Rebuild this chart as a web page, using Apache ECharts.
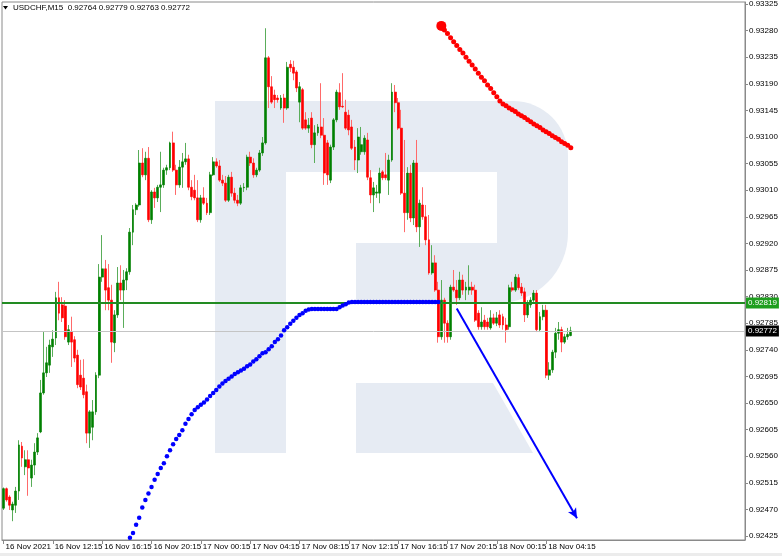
<!DOCTYPE html>
<html><head><meta charset="utf-8">
<script src="https://cdn.jsdelivr.net/npm/echarts@6/dist/echarts.min.js"></script>
<style>html,body{margin:0;padding:0;background:#fff}#c{width:782px;height:556px}</style>
</head><body><div id="c"></div>
<script>
// ---------------- data ----------------
const symbolName = 'USDCHF,M15';
const xTickLabels = ['16 Nov 2021','16 Nov 12:15','16 Nov 16:15','16 Nov 20:15','17 Nov 00:15','17 Nov 04:15','17 Nov 08:15','17 Nov 12:15','17 Nov 16:15','17 Nov 20:15','18 Nov 00:15','18 Nov 04:15'];
const yTickLabels = [0.92425,0.92470,0.92515,0.92560,0.92605,0.92650,0.92695,0.92740,0.92785,0.92830,0.92875,0.92920,0.92965,0.93010,0.93055,0.93100,0.93145,0.93190,0.93235,0.93280,0.93325];

const opens = [
0.92472,0.92505,0.92491,0.92469,0.92477,0.92501,0.92577,0.92542,0.92554,0.92523,
0.92545,0.92567,0.92601,0.92667,0.92701,0.92714,0.92745,0.92760,0.92828,0.92816,
0.92814,0.92753,0.92770,0.92757,0.92731,0.92697,0.92692,0.92669,0.92599,0.92609,
0.92635,0.92697,0.92863,0.92877,0.92845,0.92824,0.92752,0.92799,0.92853,0.92841,
0.92858,0.92872,0.92939,0.92977,0.92985,0.93056,0.93036,0.93064,0.92960,0.93007,
0.92997,0.93015,0.93019,0.93044,0.93048,0.93090,0.93044,0.93019,0.93049,0.93058,
0.93063,0.93015,0.93010,0.92997,0.92960,0.92997,0.92988,0.92972,0.93036,0.93058,
0.93051,0.93027,0.93022,0.92993,0.93032,0.93005,0.92993,0.92988,0.93014,0.93015,
0.93066,0.93056,0.93036,0.93044,0.93073,0.93090,0.93234,0.93185,0.93171,0.93166,
0.93149,0.93166,0.93149,0.93223,0.93218,0.93210,0.93159,0.93180,0.93129,0.93115,
0.93132,0.93087,0.93107,0.93117,0.93103,0.93090,0.93027,0.93083,0.93129,0.93175,
0.93152,0.93142,0.93137,0.93117,0.93083,0.93061,0.93075,0.93075,0.93095,0.93031,
0.93002,0.93005,0.93005,0.93041,0.93036,0.93027,0.93061,0.93176,0.93158,0.93115,
0.93005,0.92972,0.93039,0.92963,0.93056,0.92948,0.92985,0.92965,0.92926,0.92870,
0.92887,0.92841,0.92762,0.92824,0.92785,0.92762,0.92846,0.92841,0.92828,0.92858,
0.92841,0.92841,0.92846,0.92841,0.92802,0.92779,0.92790,0.92787,0.92777,0.92794,
0.92785,0.92799,0.92796,0.92782,0.92779,0.92845,0.92841,0.92862,0.92846,0.92838,
0.92799,0.92816,0.92824,0.92836,0.92774,0.92796,0.92807,0.92697,0.92706,0.92736,
0.92768,0.92774,0.92753,0.92762,0.92764];

const highs = [
0.92507,0.92507,0.92494,0.92483,0.92508,0.92587,0.92584,0.92570,0.92570,0.92554,
0.92582,0.92599,0.92689,0.92770,0.92745,0.92757,0.92773,0.92838,0.92855,0.92829,
0.92824,0.92782,0.92796,0.92763,0.92740,0.92723,0.92724,0.92681,0.92638,0.92655,
0.92702,0.92885,0.92934,0.92892,0.92885,0.92850,0.92807,0.92880,0.92883,0.92875,
0.92878,0.92946,0.92985,0.92988,0.93078,0.93081,0.93075,0.93083,0.93010,0.93014,
0.93019,0.93075,0.93048,0.93053,0.93092,0.93109,0.93053,0.93061,0.93073,0.93090,
0.93070,0.93027,0.93036,0.93027,0.93002,0.93015,0.92997,0.93041,0.93066,0.93064,
0.93061,0.93036,0.93034,0.93036,0.93041,0.93014,0.93002,0.93019,0.93022,0.93070,
0.93075,0.93064,0.93048,0.93078,0.93100,0.93284,0.93237,0.93203,0.93180,0.93171,
0.93171,0.93173,0.93227,0.93230,0.93229,0.93213,0.93193,0.93183,0.93142,0.93132,
0.93142,0.93120,0.93122,0.93191,0.93132,0.93095,0.93087,0.93132,0.93180,0.93191,
0.93208,0.93163,0.93146,0.93129,0.93095,0.93115,0.93117,0.93103,0.93107,0.93044,
0.93024,0.93019,0.93048,0.93044,0.93073,0.93070,0.93191,0.93188,0.93166,0.93146,
0.93095,0.93049,0.93053,0.93061,0.93095,0.92994,0.93015,0.92985,0.92968,0.92917,
0.92900,0.92855,0.92858,0.92828,0.92790,0.92850,0.92875,0.92858,0.92872,0.92867,
0.92855,0.92883,0.92855,0.92850,0.92807,0.92812,0.92799,0.92794,0.92807,0.92801,
0.92804,0.92807,0.92801,0.92794,0.92850,0.92855,0.92868,0.92868,0.92853,0.92845,
0.92824,0.92829,0.92841,0.92841,0.92804,0.92816,0.92816,0.92719,0.92740,0.92777,
0.92787,0.92779,0.92767,0.92777,0.92779];

const lows = [
0.92469,0.92483,0.92469,0.92450,0.92464,0.92486,0.92542,0.92528,0.92493,0.92508,
0.92528,0.92562,0.92599,0.92664,0.92694,0.92701,0.92728,0.92748,0.92790,0.92787,
0.92757,0.92748,0.92711,0.92719,0.92675,0.92672,0.92658,0.92582,0.92574,0.92587,
0.92630,0.92692,0.92855,0.92807,0.92807,0.92718,0.92736,0.92794,0.92824,0.92777,
0.92841,0.92867,0.92917,0.92968,0.92982,0.93032,0.93027,0.92956,0.92953,0.92980,
0.92990,0.92973,0.93014,0.93036,0.93044,0.93041,0.93002,0.93014,0.93014,0.93053,
0.93010,0.92993,0.92993,0.92956,0.92955,0.92985,0.92968,0.92968,0.93034,0.93048,
0.93024,0.93017,0.92990,0.92990,0.92999,0.92988,0.92983,0.92985,0.93007,0.93010,
0.93051,0.93031,0.93032,0.93041,0.93068,0.93087,0.93149,0.93156,0.93149,0.93158,
0.93146,0.93124,0.93146,0.93210,0.93196,0.93176,0.93125,0.93112,0.93112,0.93107,
0.93081,0.93056,0.93102,0.93098,0.93019,0.93019,0.93022,0.93078,0.93125,0.93146,
0.93149,0.93112,0.93103,0.93078,0.93044,0.93039,0.93070,0.93070,0.93027,0.92988,
0.92973,0.92997,0.92988,0.93027,0.93027,0.93002,0.93058,0.93142,0.93112,0.93002,
0.92939,0.92960,0.92956,0.92951,0.92939,0.92914,0.92960,0.92917,0.92867,0.92867,
0.92838,0.92752,0.92757,0.92752,0.92752,0.92757,0.92838,0.92816,0.92824,0.92833,
0.92824,0.92833,0.92833,0.92787,0.92774,0.92774,0.92774,0.92774,0.92774,0.92782,
0.92780,0.92777,0.92774,0.92752,0.92774,0.92838,0.92838,0.92841,0.92831,0.92787,
0.92794,0.92811,0.92821,0.92770,0.92770,0.92790,0.92692,0.92689,0.92701,0.92726,
0.92757,0.92736,0.92750,0.92757,0.92763];

const closes = [
0.92505,0.92486,0.92477,0.92479,0.92501,0.92579,0.92557,0.92554,0.92540,0.92545,
0.92567,0.92591,0.92667,0.92701,0.92718,0.92748,0.92758,0.92828,0.92802,0.92794,
0.92762,0.92774,0.92753,0.92726,0.92681,0.92677,0.92664,0.92599,0.92635,0.92635,
0.92697,0.92863,0.92877,0.92841,0.92824,0.92753,0.92799,0.92853,0.92841,0.92858,
0.92872,0.92939,0.92977,0.92985,0.93056,0.93036,0.93064,0.92960,0.93007,0.92997,
0.93015,0.93019,0.93044,0.93048,0.93090,0.93044,0.93019,0.93049,0.93058,0.93063,
0.93015,0.92999,0.92997,0.92960,0.92997,0.92988,0.92972,0.93036,0.93058,0.93051,
0.93027,0.93022,0.92993,0.93032,0.93005,0.92993,0.92988,0.93014,0.93015,0.93066,
0.93056,0.93036,0.93044,0.93073,0.93090,0.93234,0.93185,0.93159,0.93163,0.93163,
0.93166,0.93149,0.93218,0.93217,0.93208,0.93183,0.93185,0.93115,0.93115,0.93120,
0.93087,0.93107,0.93117,0.93103,0.93039,0.93036,0.93083,0.93129,0.93176,0.93151,
0.93151,0.93115,0.93112,0.93081,0.93061,0.93100,0.93087,0.93098,0.93032,0.93002,
0.93014,0.93007,0.93039,0.93031,0.93031,0.93061,0.93176,0.93158,0.93115,0.93005,
0.92972,0.93039,0.92963,0.93056,0.92948,0.92988,0.92965,0.92926,0.92870,0.92887,
0.92841,0.92762,0.92824,0.92785,0.92762,0.92846,0.92841,0.92828,0.92858,0.92841,
0.92846,0.92846,0.92841,0.92790,0.92779,0.92787,0.92779,0.92779,0.92794,0.92785,
0.92794,0.92782,0.92782,0.92774,0.92845,0.92841,0.92863,0.92845,0.92836,0.92799,
0.92819,0.92824,0.92836,0.92774,0.92796,0.92807,0.92697,0.92706,0.92736,0.92768,
0.92774,0.92753,0.92762,0.92766,0.92772];

// blue dotted indicator (starts at bar 41)
const blueDotsStart = 41;
const blueDots = [
0.92422,0.92430,0.92444,0.92456,0.92473,0.92486,0.92497,0.92508,0.92520,0.92530,
0.92540,0.92548,0.92560,0.92570,0.92580,0.92589,0.92596,0.92604,0.92615,0.92623,
0.92631,0.92638,0.92643,0.92647,0.92651,0.92656,0.92662,0.92667,0.92672,0.92678,
0.92683,0.92687,0.92691,0.92695,0.92699,0.92702,0.92705,0.92708,0.92712,0.92715,
0.92720,0.92724,0.92729,0.92734,0.92736,0.92741,0.92746,0.92753,0.92758,0.92764,
0.92773,0.92778,0.92784,0.92789,0.92794,0.92799,0.92802,0.92806,0.92808,
0.92809,0.92809,0.92809,0.92809,0.92809,0.92809,0.92809,0.92809,0.92809,
0.92812,0.92815,0.92817,0.92820,
0.92821,0.92821,0.92821,0.92821,0.92821,0.92821,0.92821,0.92821,0.92821,0.92821,
0.92821,0.92821,0.92821,0.92821,0.92821,0.92821,0.92821,0.92821,0.92821,0.92821,
0.92821,0.92821,0.92821,0.92821,0.92821,0.92821,0.92821,0.92821,0.92821];

// red dotted indicator (starts at bar 142)
const redDotsStart = 142;
const redDots = [
0.93288,0.93281,0.93275,0.93268,0.93261,0.93255,0.93248,0.93242,0.93235,0.93228,
0.93222,0.93215,0.93208,0.93201,0.93195,0.93188,0.93182,0.93175,0.93168,0.93161,
0.93156,0.93153,0.93149,0.93146,0.93143,0.93139,0.93136,0.93133,0.93129,0.93126,
0.93122,0.93119,0.93116,0.93112,0.93109,0.93106,0.93102,0.93099,0.93096,0.93092,
0.93089,0.93086,0.93082];

const supportLevel = 0.92819;
const lastPrice = 0.92772;
const arrowLine = [[147, 0.92810], [186, 0.92455]];

const TOTAL_SLOTS = 241;   // bars + empty right shift area
const LABEL_STEP = 16;

// ---------------- build ----------------
const categories = Array.from({length: TOTAL_SLOTS}, (_, i) => String(i));
const wickData = opens.map((o, i) => [o, closes[i], lows[i], highs[i]]);
const bodyData = opens.map((o, i) => [o, closes[i], Math.min(o, closes[i]), Math.max(o, closes[i])]);
const blueSeries = new Array(blueDotsStart).fill(null).concat(blueDots);
const redSeries = new Array(redDotsStart).fill(null).concat(redDots.map((v, i) => i === 0 ? {value: v, symbolSize: 10} : v));
const n = opens.length;
const header = symbolName + '  ' + [opens[n-1], highs[n-1], lows[n-1], closes[n-1]].map(v => v.toFixed(5)).join(' ');

const FONT = 'Liberation Sans';
const WM = '#e6ebf3';

const chart = echarts.init(document.getElementById('c'), null, {renderer: 'canvas'});
chart.setOption({
  animation: false,
  backgroundColor: '#ffffff',
  textStyle: {fontFamily: FONT},
  grid: {left: 2, right: 37, top: 2, bottom: 16, show: true, borderColor: '#8a8a8a', borderWidth: 1, backgroundColor: 'transparent'},
  graphic: [
    {type: 'rect', z: -10, silent: true, shape: {x: 215, y: 101, width: 71, height: 352}, style: {fill: WM}},
    {type: 'rect', z: -10, silent: true, shape: {x: 286, y: 101, width: 282, height: 202, r: [0, 55, 70, 0]}, style: {fill: WM}},
    {type: 'rect', z: -9, silent: true, shape: {x: 286, y: 172, width: 211, height: 71}, style: {fill: '#ffffff'}},
    {type: 'rect', z: -9, silent: true, shape: {x: 286, y: 243, width: 70, height: 60}, style: {fill: '#ffffff'}},
    {type: 'polygon', z: -10, silent: true, shape: {points: [[356, 383], [493, 383], [533, 453], [356, 453]]}, style: {fill: WM}},
    {type: 'polygon', z: 10, silent: true, shape: {points: [[3, 6], [8, 6], [5.5, 9.5]]}, style: {fill: '#000'}},
    {type: 'text', z: 10, silent: true, x: 13, y: 4, style: {text: header, fill: '#000', font: '8px ' + FONT}},
    {type: 'rect', z: -10, silent: true, shape: {x: 0, y: 553, width: 782, height: 3}, style: {fill: '#ececec'}}
  ],
  xAxis: {
    type: 'category', data: categories, boundaryGap: true,
    axisLine: {show: true, lineStyle: {color: '#8a8a8a'}},
    axisTick: {show: true, alignWithLabel: true, length: 4, lineStyle: {color: '#8a8a8a'},
      interval: (i) => i % LABEL_STEP === 0 && i / LABEL_STEP < xTickLabels.length},
    axisLabel: {show: true, color: '#000', fontSize: 8, fontFamily: FONT, align: 'left', margin: 3, padding: [0, 0, 0, 2],
      interval: (i) => i % LABEL_STEP === 0 && i / LABEL_STEP < xTickLabels.length,
      formatter: (v, i) => xTickLabels[Math.round(Number(v) / LABEL_STEP)] || ''},
    splitLine: {show: false}
  },
  yAxis: {
    type: 'value', position: 'right', min: 0.924182, max: 0.933284, scale: true,
    axisLine: {show: true, lineStyle: {color: '#8a8a8a'}},
    axisTick: {show: true, length: 3, lineStyle: {color: '#8a8a8a'}, customValues: yTickLabels},
    axisLabel: {show: true, color: '#000', fontSize: 8, fontFamily: FONT, margin: 4, customValues: yTickLabels, formatter: (v) => Number(v).toFixed(5)},
    splitLine: {show: false}
  },
  series: [
    {
      name: 'wicks', type: 'candlestick', data: wickData, barWidth: 1, silent: true, z: 2,
      itemStyle: {color: '#5aad5a', color0: '#ff6a6a', borderColor: '#5aad5a', borderColor0: '#ff6a6a', borderWidth: 1}
    },
    {
      name: 'bodies', type: 'candlestick', data: bodyData, barWidth: 2.4, silent: true, z: 3,
      itemStyle: {color: '#008000', color0: '#ff0000', borderColor: '#008000', borderColor0: '#ff0000', borderWidth: 0.6},
      markLine: {
        silent: true, animation: false, symbol: ['none', 'none'], precision: 5,
        data: [
          {yAxis: supportLevel, lineStyle: {color: '#228b22', width: 2, type: 'solid'},
            label: {show: true, position: 'end', distance: 1, formatter: supportLevel.toFixed(5), color: '#fff', backgroundColor: '#1e9e1e', fontSize: 8, fontFamily: FONT, padding: [2, 2, 1, 2]}},
          {yAxis: lastPrice, lineStyle: {color: '#c4c4c4', width: 1, type: 'solid'},
            label: {show: true, position: 'end', distance: 1, formatter: lastPrice.toFixed(5), color: '#fff', backgroundColor: '#000', fontSize: 8, fontFamily: FONT, padding: [2, 2, 1, 2]}},
          [
            {coord: arrowLine[0], symbol: 'none', lineStyle: {color: '#0000ff', width: 2, type: 'solid'}, label: {show: false}},
            {coord: arrowLine[1], symbol: 'arrow', symbolSize: [7, 10], lineStyle: {color: '#0000ff', width: 2, type: 'solid'}, label: {show: false}}
          ]
        ]
      }
    },
    {
      name: 'blue', type: 'line', data: blueSeries, symbol: 'circle', symbolSize: 4.5, showSymbol: true, showAllSymbol: true,
      connectNulls: false, silent: true, z: 5, lineStyle: {width: 0, opacity: 0}, itemStyle: {color: '#0000ff'}
    },
    {
      name: 'red', type: 'line', data: redSeries, symbol: 'circle', symbolSize: 5, showSymbol: true, showAllSymbol: true,
      connectNulls: false, silent: true, z: 5, lineStyle: {width: 0, opacity: 0}, itemStyle: {color: '#ff0000'}
    }
  ]
});
</script>
</body></html>
